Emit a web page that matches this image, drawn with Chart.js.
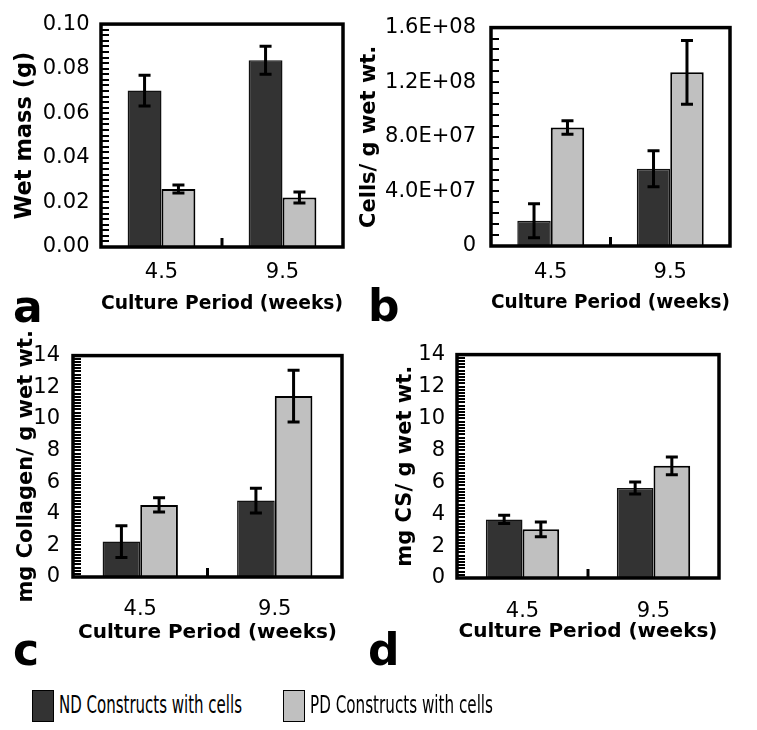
<!DOCTYPE html>
<html>
<head>
<meta charset="utf-8">
<script src="https://cdn.jsdelivr.net/npm/chart.js@4.4.1/dist/chart.umd.min.js"></script>
<style>
  body { margin: 0; background: #fff; }
  #fig { position: relative; width: 757px; height: 730px; background: #fff; overflow: hidden; }
  .panel { position: absolute; }
  .letter { position: absolute; font: bold 44px 'DejaVu Sans', sans-serif; line-height: 44px; color: #000; }
  .swatch { position: absolute; width: 22px; height: 32px; box-sizing: border-box; border: 1.5px solid #000; }
  .legtext { position: absolute; font: 25px 'DejaVu Sans Condensed', 'DejaVu Sans', sans-serif; line-height: 32px;
             white-space: nowrap; transform-origin: 0 50%; color: #000; }
</style>
</head>
<body>
<div id="fig"></div>
<script>
const categories = ['4.5', '9.5'];
const seriesNames = ['ND Constructs with cells', 'PD Constructs with cells'];
const seriesColors = ['#333333', '#c0c0c0'];

// (a) wet mass, g
const wetMassND = [0.0702, 0.0838];
const wetMassNDErr = [0.0069, 0.0063];
const wetMassPD = [0.0260, 0.0222];
const wetMassPDErr = [0.0018, 0.0025];

// (b) cells per g wet weight
const cellsND = [1.85e7, 5.66e7];
const cellsNDErr = [1.25e7, 1.32e7];
const cellsPD = [8.68e7, 1.272e8];
const cellsPDErr = [0.50e7, 2.34e7];

// (c) mg collagen per g wet weight
const collagenND = [2.24, 4.83];
const collagenNDErr = [1.00, 0.78];
const collagenPD = [4.56, 11.44];
const collagenPDErr = [0.45, 1.64];

// (d) mg CS per g wet weight
const csND = [3.67, 5.64];
const csNDErr = [0.26, 0.37];
const csPD = [3.05, 7.03];
const csPDErr = [0.46, 0.56];

const xTitle = 'Culture Period (weeks)';

function sciLabel(v) {
  if (v === 0) return '0';
  const [m, e] = v.toExponential(1).split('e');
  const n = parseInt(e, 10);
  return m + 'E' + (n < 0 ? '-' : '+') + String(Math.abs(n)).padStart(2, '0');
}

// error bars, inward minor ticks, middle category tick and the heavy frame
const panelDecor = {
  id: 'panelDecor',
  afterDatasetsDraw(chart, args, opts) {
    const ctx = chart.ctx;
    const xs = chart.scales.x, ys = chart.scales.y;
    const area = chart.chartArea;
    ctx.save();
    ctx.strokeStyle = '#000';
    ctx.lineCap = 'butt';

    ctx.lineWidth = 3;
    chart.data.datasets.forEach((ds, di) => {
      chart.getDatasetMeta(di).data.forEach((bar, i) => {
        const top = ys.getPixelForValue(ds.data[i] + ds.errors[i]);
        const bot = ys.getPixelForValue(ds.data[i] - ds.errors[i]);
        ctx.beginPath();
        ctx.moveTo(bar.x, top); ctx.lineTo(bar.x, bot);
        ctx.moveTo(bar.x - 6, top); ctx.lineTo(bar.x + 6, top);
        ctx.moveTo(bar.x - 6, bot); ctx.lineTo(bar.x + 6, bot);
        ctx.stroke();
      });
    });

    ctx.lineWidth = 2;
    ctx.beginPath();
    for (let k = 0; k * opts.minorStep <= ys.max * 1.0001; k++) {
      const py = Math.round(ys.getPixelForValue(k * opts.minorStep));
      ctx.moveTo(area.left, py);
      ctx.lineTo(area.left + 8, py);
    }
    ctx.stroke();

    const mid = (xs.getPixelForValue(0) + xs.getPixelForValue(1)) / 2;
    ctx.lineWidth = 3;
    ctx.beginPath();
    ctx.moveTo(mid, area.bottom);
    ctx.lineTo(mid, area.bottom - 9);
    ctx.stroke();

    ctx.lineWidth = 3.5;
    ctx.strokeRect(area.left, area.top, area.right - area.left, area.bottom - area.top);
    ctx.restore();
  }
};

const panels = [
  { letter: 'a', div: [0, 0, 355, 330], plot: [101, 20, 343, 247],
    yTitle: 'Wet mass (g)', yTitleSize: 22.5, yTitleX: 25, xTitleY: 304, xLabelY: 272.5, yPad: 11.5,
    max: 0.1, step: 0.02, minorStep: 0.0025, fmt: v => v.toFixed(2),
    nd: wetMassND, ndErr: wetMassNDErr, pd: wetMassPD, pdErr: wetMassPDErr,
    letterPos: [13, 285] },
  { letter: 'b', div: [355, 0, 402, 330], plot: [491, 22, 730, 246],
    yTitle: 'Cells/ g wet wt.', yTitleSize: 21, yTitleX: 370, xTitleY: 303, xLabelY: 272.5, yPad: 15,
    max: 1.6e8, step: 4e7, minorStep: 8e6, fmt: sciLabel,
    nd: cellsND, ndErr: cellsNDErr, pd: cellsPD, pdErr: cellsPDErr,
    letterPos: [368, 284] },
  { letter: 'c', div: [0, 330, 380, 345], plot: [73, 353, 342, 577],
    yTitle: 'mg Collagen/ g wet wt.', yTitleSize: 21, yTitleX: 27, xTitleY: 633, xLabelY: 610, yPad: 13,
    max: 14, step: 2, minorStep: 0.2, fmt: v => String(v),
    nd: collagenND, ndErr: collagenNDErr, pd: collagenPD, pdErr: collagenPDErr,
    letterPos: [13, 628] },
  { letter: 'd', div: [380, 330, 377, 345], plot: [457, 353, 719, 578],
    yTitle: 'mg CS/ g wet wt.', yTitleSize: 21, yTitleX: 406, xTitleY: 632, xLabelY: 612, yPad: 12,
    max: 14, step: 2, minorStep: 0.2, fmt: v => String(v),
    nd: csND, ndErr: csNDErr, pd: csPD, pdErr: csPDErr,
    letterPos: [368, 628] },
];

const fig = document.getElementById('fig');
const tickFont = { family: 'DejaVu Sans', size: 21 };
const xTitleFont = { family: 'DejaVu Sans', size: 20, weight: 'bold' };

panels.forEach(p => {
  const [dl, dt, dw, dh] = p.div;
  const [pl, pt, pr, pb] = p.plot;
  const box = document.createElement('div');
  box.className = 'panel';
  box.style.left = dl + 'px';
  box.style.top = dt + 'px';
  const canvas = document.createElement('canvas');
  canvas.width = dw;
  canvas.height = dh;
  box.appendChild(canvas);
  fig.appendChild(box);

  new Chart(canvas, {
    type: 'bar',
    data: {
      labels: categories,
      datasets: [
        { label: seriesNames[0], data: p.nd, errors: p.ndErr, backgroundColor: seriesColors[0],
          borderColor: '#111', borderWidth: 1.5 },
        { label: seriesNames[1], data: p.pd, errors: p.pdErr, backgroundColor: seriesColors[1],
          borderColor: '#000', borderWidth: 2 },
      ],
    },
    options: {
      responsive: false,
      maintainAspectRatio: false,
      animation: false,
      layout: { padding: { top: pt - dt, right: dl + dw - pr, bottom: 0, left: 0 } },
      datasets: { bar: { categoryPercentage: 0.56, barPercentage: 1 } },
      plugins: {
        legend: { display: false },
        tooltip: { enabled: false },
        panelDecor: { minorStep: p.minorStep },
      },
      scales: {
        x: {
          grid: { display: false, drawTicks: false },
          border: { display: false },
          ticks: { font: tickFont, color: '#000', padding: p.xLabelY - pb - tickFont.size * 0.6 },
          title: { display: true, text: xTitle, font: xTitleFont, color: '#000',
                   padding: { top: 0, bottom: dt + dh - p.xTitleY - xTitleFont.size * 0.6 } },
          afterFit: s => { s.height = dt + dh - pb; },
        },
        y: {
          min: 0,
          max: p.max,
          grid: { display: false, drawTicks: false },
          border: { display: false },
          ticks: { stepSize: p.step, font: tickFont, color: '#000', padding: p.yPad,
                   callback: v => p.fmt(v) },
          title: { display: true, text: p.yTitle, color: '#000',
                   font: { family: 'DejaVu Sans', size: p.yTitleSize, weight: 'bold' },
                   padding: { top: p.yTitleX - dl - p.yTitleSize * 0.6, bottom: 0 } },
          afterFit: s => { s.width = pl - dl; },
        },
      },
    },
    plugins: [panelDecor],
  });

  const letter = document.createElement('div');
  letter.className = 'letter';
  letter.textContent = p.letter;
  letter.style.left = p.letterPos[0] + 'px';
  letter.style.top = p.letterPos[1] + 'px';
  fig.appendChild(letter);
});

// legend along the bottom
const legendX = [32, 283];
seriesNames.forEach((name, i) => {
  const sw = document.createElement('div');
  sw.className = 'swatch';
  sw.style.left = legendX[i] + 'px';
  sw.style.top = '690px';
  sw.style.background = seriesColors[i];
  fig.appendChild(sw);
  const tx = document.createElement('div');
  tx.className = 'legtext';
  tx.textContent = name;
  tx.style.left = (legendX[i] + 27) + 'px';
  tx.style.top = '689px';
  fig.appendChild(tx);
  const w = tx.getBoundingClientRect().width;
  tx.style.transform = 'scaleX(' + (183 / w).toFixed(3) + ')';
});
</script>
</body>
</html>
